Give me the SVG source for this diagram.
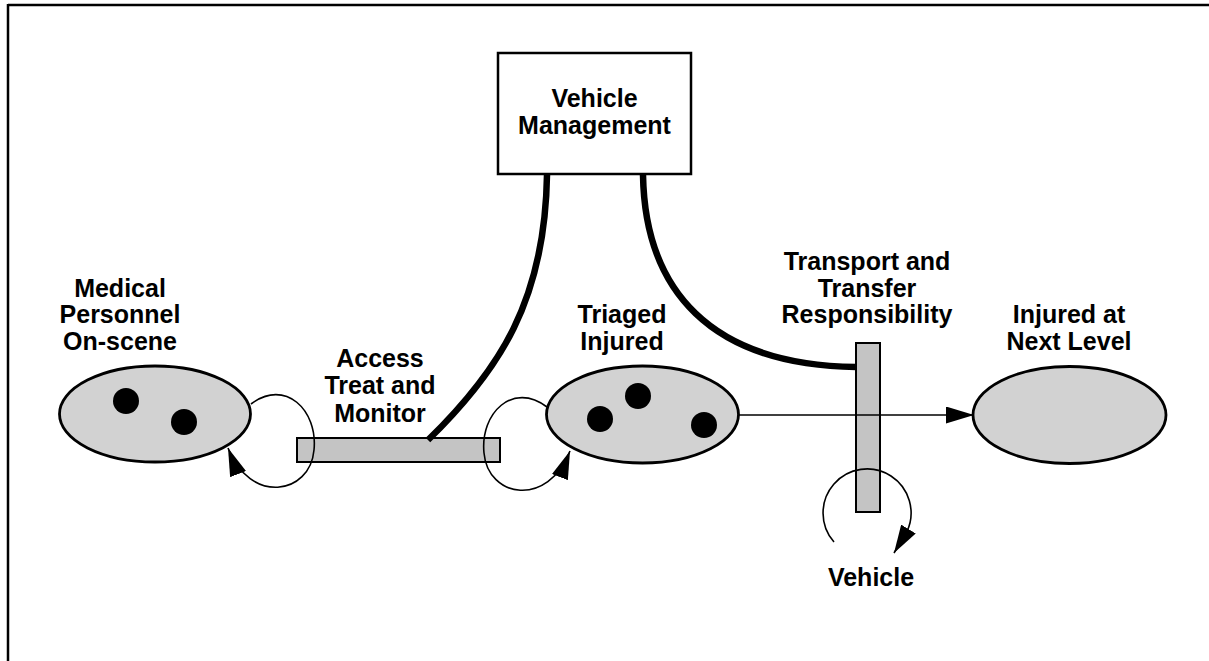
<svg xmlns="http://www.w3.org/2000/svg" width="1209" height="661" viewBox="0 0 1209 661">
<defs>
<style>
.lbl{font-family:"Liberation Sans",Arial,Helvetica,sans-serif;font-weight:bold;font-size:25px;fill:#000;text-anchor:middle}
.oval{fill:#d2d2d2;stroke:#000;stroke-width:2.8}
.bar{fill:#c4c4c4;stroke:#000;stroke-width:2}
.dot{fill:#000}
.thin{fill:none;stroke:#000;stroke-width:1.6}
.thick{fill:none;stroke:#000;stroke-width:6.5}
</style>
<marker id="arr" markerUnits="userSpaceOnUse" markerWidth="28" markerHeight="17" viewBox="0 0 28 17" refX="28" refY="8.5" orient="auto">
<path d="M0,0 L28,8.5 L0,17 z" fill="#000"/>
</marker>
</defs>
<rect width="1209" height="661" fill="#fff"/>
<g id="frame">
<line x1="8" y1="5" x2="1209" y2="5" stroke="#000" stroke-width="2.5"/>
<line x1="8" y1="4" x2="8" y2="661" stroke="#000" stroke-width="2.5"/>
</g>
<g id="access-bar">
<rect class="bar" x="297" y="438" width="203" height="24"/>
</g>
<g id="transport-bar">
<rect class="bar" x="856" y="343" width="24" height="169"/>
</g>
<g id="connectors">
<path class="thick" d="M547 175 C545 300 500 370 428 440"/>
<path class="thick" d="M643 175 C645 290 710 365 856 367"/>
<path class="thin" d="M251 404 C285 378 318 410 314 450 C310 495 250 505 228 448" marker-end="url(#arr)"/>
<path class="thin" d="M547 407 C513 381 480 413 484 453 C488 498 548 508 570 451" marker-end="url(#arr)"/>
<path class="thin" d="M738 415 L974 415" marker-end="url(#arr)"/>
<path class="thin" d="M834 542 A44 44 0 1 1 906.9 531.6 L894 553" marker-end="url(#arr)"/>
</g>
<g id="vehicle-management">
<rect x="498" y="53" width="193" height="121" fill="#fff" stroke="#000" stroke-width="2.5"/>
<text class="lbl" x="594.5" y="107">Vehicle</text>
<text class="lbl" x="594.5" y="134">Management</text>
</g>
<g id="medical-personnel">
<ellipse class="oval" cx="155" cy="414" rx="95.5" ry="48"/>
<circle class="dot" cx="126" cy="401" r="13"/>
<circle class="dot" cx="184" cy="422" r="13"/>
<text class="lbl" x="120" y="297">Medical</text>
<text class="lbl" x="120" y="323">Personnel</text>
<text class="lbl" x="120" y="350">On-scene</text>
</g>
<g id="access-label">
<text class="lbl" x="380" y="367">Access</text>
<text class="lbl" x="380" y="394">Treat and</text>
<text class="lbl" x="380" y="422">Monitor</text>
</g>
<g id="triaged-injured">
<ellipse class="oval" cx="642.5" cy="414.5" rx="96" ry="48.5"/>
<circle class="dot" cx="600" cy="419" r="13"/>
<circle class="dot" cx="638" cy="396" r="13"/>
<circle class="dot" cx="704" cy="425" r="13"/>
<text class="lbl" x="622" y="323">Triaged</text>
<text class="lbl" x="622" y="350">Injured</text>
</g>
<g id="transport-label">
<text class="lbl" x="867" y="270">Transport and</text>
<text class="lbl" x="867" y="297">Transfer</text>
<text class="lbl" x="867" y="323">Responsibility</text>
</g>
<g id="injured-next-level">
<ellipse class="oval" cx="1069.5" cy="415" rx="96.5" ry="48.5"/>
<text class="lbl" x="1069" y="323">Injured at</text>
<text class="lbl" x="1069" y="350">Next Level</text>
</g>
<g id="vehicle">
<text class="lbl" x="871" y="586">Vehicle</text>
</g>
</svg>
